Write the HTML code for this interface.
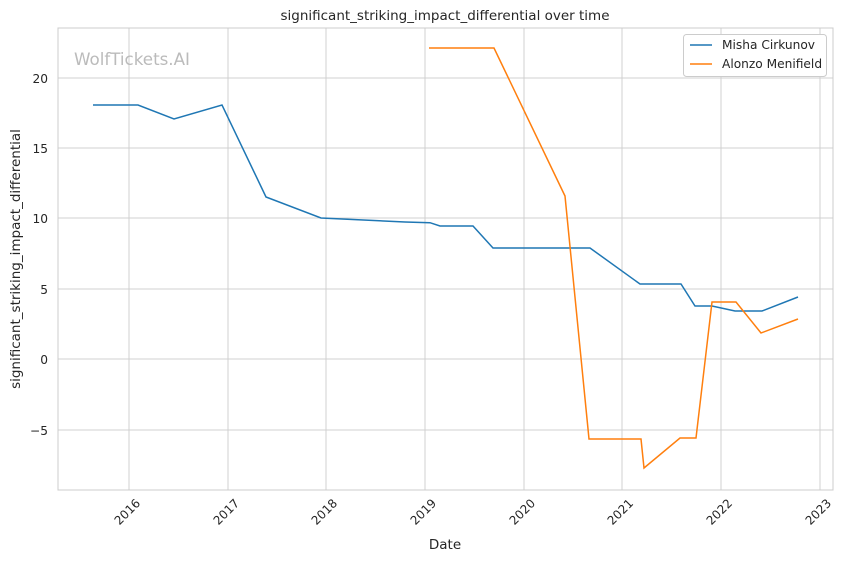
<!DOCTYPE html><html><head><style>body{margin:0;background:#fff}svg{display:block;font-family:"DejaVu Sans","Liberation Sans",sans-serif}</style></head><body>
<svg width="844" height="561" xmlns="http://www.w3.org/2000/svg">
<rect width="844" height="561" fill="#fff"/>
<g stroke="#d0d0d0" stroke-width="1">
<line x1="129" y1="28" x2="129" y2="490"/><line x1="228" y1="28" x2="228" y2="490"/><line x1="326" y1="28" x2="326" y2="490"/><line x1="425" y1="28" x2="425" y2="490"/><line x1="524" y1="28" x2="524" y2="490"/><line x1="622" y1="28" x2="622" y2="490"/><line x1="721" y1="28" x2="721" y2="490"/><line x1="820" y1="28" x2="820" y2="490"/>
<line x1="58" y1="78" x2="833" y2="78"/><line x1="58" y1="148" x2="833" y2="148"/><line x1="58" y1="218" x2="833" y2="218"/><line x1="58" y1="289" x2="833" y2="289"/><line x1="58" y1="359" x2="833" y2="359"/><line x1="58" y1="430" x2="833" y2="430"/>
</g>
<rect x="58" y="28" width="775" height="462" fill="none" stroke="#cccccc"/>
<text x="74" y="65" font-size="16.7" fill="#bbbbbb">WolfTickets.AI</text>
<polyline fill="none" stroke="#1f77b4" stroke-width="1.5" points="93,105 138,105 174,119 222,105 266,197 321,218 405,222 430,222.7 440,226 473,226 493,248 590,248 640,284 681,284 695,306 712,306 735,311 762,311 798,297"/>
<polyline fill="none" stroke="#ff7f0e" stroke-width="1.5" points="429,48 494,48 565,196 589,439 641,439 644,468 680,438 696,438 712,302 736,302 761,333 798,319"/>
<g font-size="12.2" fill="#262626" text-anchor="end">
<text x="48" y="83">20</text><text x="48" y="153">15</text><text x="48" y="223">10</text><text x="48" y="294">5</text><text x="48" y="364">0</text><text x="48" y="435">−5</text>
</g>
<g font-size="12" fill="#262626" text-anchor="end">
<text transform="translate(141,504) rotate(-45)">2016</text><text transform="translate(240,504) rotate(-45)">2017</text><text transform="translate(338,504) rotate(-45)">2018</text><text transform="translate(437,504) rotate(-45)">2019</text><text transform="translate(536,504) rotate(-45)">2020</text><text transform="translate(634,504) rotate(-45)">2021</text><text transform="translate(733,504) rotate(-45)">2022</text><text transform="translate(832,504) rotate(-45)">2023</text>
</g>
<text x="445" y="549" font-size="13.5" fill="#262626" text-anchor="middle">Date</text>
<text transform="translate(20,259) rotate(-90)" font-size="13.5" fill="#262626" text-anchor="middle">significant_striking_impact_differential</text>
<text x="445" y="20" font-size="13.5" fill="#262626" text-anchor="middle">significant_striking_impact_differential over time</text>
<rect x="683.5" y="34.5" width="143" height="42" rx="3" fill="#fff" stroke="#cccccc"/>
<line x1="690" y1="45" x2="712" y2="45" stroke="#1f77b4" stroke-width="1.5"/>
<line x1="690" y1="64" x2="712" y2="64" stroke="#ff7f0e" stroke-width="1.5"/>
<text x="722" y="49" font-size="12.2" fill="#262626">Misha Cirkunov</text>
<text x="722" y="68" font-size="12.2" fill="#262626">Alonzo Menifield</text>
</svg>
</body></html>
